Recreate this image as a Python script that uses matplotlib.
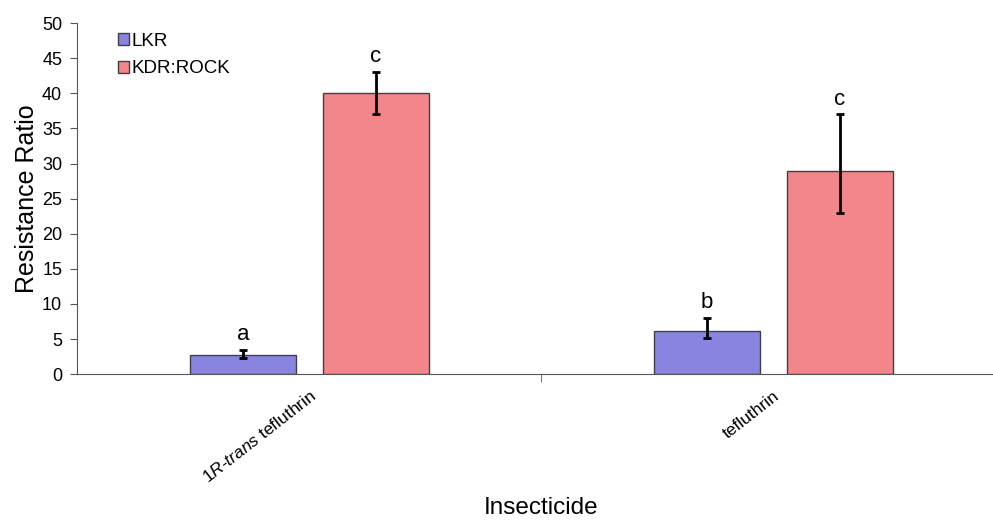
import matplotlib.pyplot as plt
import numpy as np

plt.rcParams['font.family'] = ['Liberation Sans', 'DejaVu Sans']
plt.rcParams['mathtext.fontset'] = 'custom'
plt.rcParams['mathtext.rm'] = 'Liberation Sans'
plt.rcParams['mathtext.it'] = 'Liberation Sans:italic'

categories = [r'$\mathit{1R}$-$\mathit{trans}$ tefluthrin', 'tefluthrin']
series = ['LKR', 'KDR:ROCK']
values = {'LKR': [2.8, 6.1], 'KDR:ROCK': [40, 29]}
err_low = {'LKR': [0.5, 1.0], 'KDR:ROCK': [3, 6]}
err_high = {'LKR': [0.7, 1.9], 'KDR:ROCK': [3, 8]}
letters = {'LKR': ['a', 'b'], 'KDR:ROCK': ['c', 'c']}
colors = {'LKR': '#8884e0', 'KDR:ROCK': '#f2868a'}

fig = plt.figure(figsize=(9.93, 5.27), dpi=100)
ax = fig.add_axes([0.078, 0.29, 0.9345, 0.666])

x = np.arange(len(categories))
w = 0.228
offs = {'LKR': -0.143, 'KDR:ROCK': 0.143}
for s in series:
    v = np.array(values[s])
    lo = np.array(err_low[s])
    hi = np.array(err_high[s])
    ax.bar(x + offs[s], v, w, color=colors[s], edgecolor='#404040', linewidth=1, label=s, zorder=2)
    ax.errorbar(x + offs[s], v, yerr=[lo, hi], fmt='none', ecolor='black', elinewidth=2,
                capsize=2.8, capthick=2, zorder=3)
    for xi, top, lt in zip(x + offs[s], v + hi, letters[s]):
        ax.text(xi, top + 1.4, lt, ha='center', va='baseline', fontsize=16)

ax.set_xlim(-0.5, 1.5)
ax.set_ylim(0, 50)
ax.set_yticks(range(0, 51, 5))
ax.set_xticks(x)
ax.set_xticklabels(categories, rotation=38, ha='right', rotation_mode='anchor', fontsize=12.5)
ax.set_xticks([0.5], minor=True)
ax.tick_params(axis='x', which='major', length=0, pad=10)
ax.tick_params(axis='x', which='minor', length=6, color='#555555')
ax.tick_params(axis='y', labelsize=13, length=5, color='#555555', pad=6)
for sp in ['top', 'right']:
    ax.spines[sp].set_visible(False)
for sp in ['left', 'bottom']:
    ax.spines[sp].set_color('#555555')

ax.set_ylabel('Resistance Ratio', fontsize=18, labelpad=2)
ax.set_xlabel('Insecticide', fontsize=17.5, labelpad=8)

ax.legend(loc='upper left', bbox_to_anchor=(0.025, 1.02), frameon=False, fontsize=13.5,
          handlelength=0.6, handleheight=0.6, handletextpad=0.15, labelspacing=0.55)

fig.savefig('out.png', dpi=100)
